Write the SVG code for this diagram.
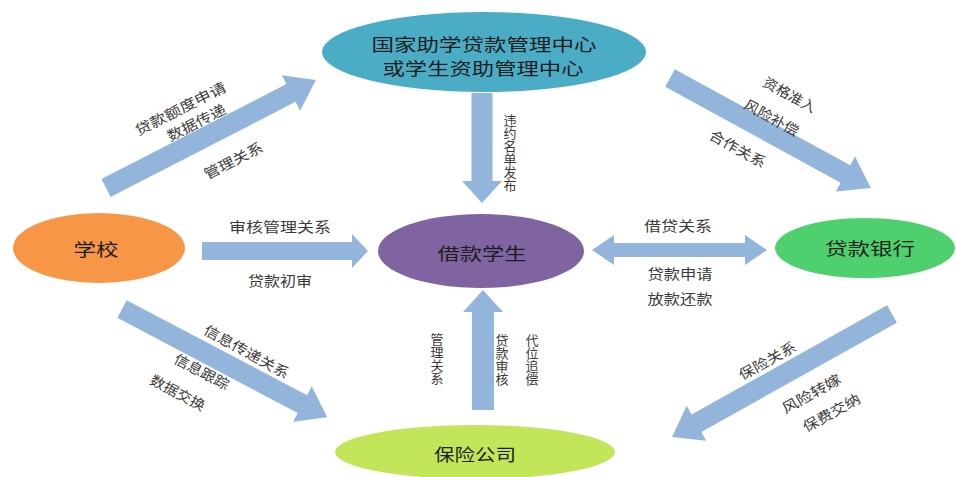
<svg xmlns="http://www.w3.org/2000/svg" width="957" height="477" viewBox="0 0 957 477">
<style>
.arr{fill:#93b5dc;}
.lbl{font-family:"Noto Sans CJK SC","Noto Sans",sans-serif;font-size:14px;fill:#3a3a3a;text-anchor:middle;dominant-baseline:central;}
.vl{font-family:"Noto Sans CJK SC","Noto Sans",sans-serif;font-size:13px;fill:#3a3a3a;text-anchor:middle;writing-mode:tb;}
.nt{font-family:"Noto Sans CJK SC","Noto Sans",sans-serif;font-size:17px;fill:#1e1e1e;text-anchor:middle;dominant-baseline:central;}
</style>
<rect width="957" height="477" fill="#ffffff"/>
<g id="connectors">
  <path class="arr" transform="translate(106,188) rotate(-27.2)" d="M0,-10 L208,-10 L208,-20 L236,0 L208,20 L208,10 L0,10 Z"/>
  <path class="arr" transform="translate(670,78) rotate(28.7)" d="M0,-10 L200,-10 L200,-20 L229,0 L200,20 L200,10 L0,10 Z"/>
  <path class="arr" transform="translate(482,93) rotate(90)" d="M0,-10.5 L88,-10.5 L88,-20 L110,0 L88,20 L88,10.5 L0,10.5 Z"/>
  <path class="arr" transform="translate(202,251)" d="M0,-9 L150,-9 L150,-17 L166,0 L150,17 L150,9 L0,9 Z"/>
  <path class="arr" d="M592,250 L614,235 L614,243 L745,243 L745,235 L767,250 L745,265 L745,257 L614,257 L614,265 Z"/>
  <path class="arr" transform="translate(122,309) rotate(27.8)" d="M0,-10 L204,-10 L204,-20 L232,0 L204,20 L204,10 L0,10 Z"/>
  <path class="arr" transform="translate(483,410) rotate(-90)" d="M0,-11 L98,-11 L98,-20 L120,0 L98,20 L98,11 L0,11 Z"/>
  <path class="arr" transform="translate(892,314) rotate(150.8)" d="M0,-10 L224,-10 L224,-20 L252,0 L224,20 L224,10 L0,10 Z"/>
  <text class="lbl" transform="translate(180,108) rotate(-27)" textLength="100" lengthAdjust="spacingAndGlyphs">贷款额度申请</text>
  <text class="lbl" transform="translate(196,122) rotate(-27)" textLength="64" lengthAdjust="spacingAndGlyphs">数据传递</text>
  <text class="lbl" transform="translate(233,160) rotate(-27)" textLength="64" lengthAdjust="spacingAndGlyphs">管理关系</text>
  <text class="lbl" transform="translate(790,94) rotate(29)" textLength="58" lengthAdjust="spacingAndGlyphs">资格准入</text>
  <text class="lbl" transform="translate(772,117) rotate(29)" textLength="60" lengthAdjust="spacingAndGlyphs">风险补偿</text>
  <text class="lbl" transform="translate(738,148) rotate(29)" textLength="62" lengthAdjust="spacingAndGlyphs">合作关系</text>
  <text class="vl" x="510" y="152.5">违约名单发布</text>
  <text class="lbl" x="280" y="226" textLength="102" lengthAdjust="spacingAndGlyphs">审核管理关系</text>
  <text class="lbl" x="280" y="280" textLength="64" lengthAdjust="spacingAndGlyphs">贷款初审</text>
  <text class="lbl" x="678" y="225" textLength="68" lengthAdjust="spacingAndGlyphs">借贷关系</text>
  <text class="lbl" x="680" y="273" textLength="65" lengthAdjust="spacingAndGlyphs">贷款申请</text>
  <text class="lbl" x="680" y="298" textLength="65" lengthAdjust="spacingAndGlyphs">放款还款</text>
  <text class="lbl" transform="translate(247,351) rotate(29)" textLength="95" lengthAdjust="spacingAndGlyphs">信息传递关系</text>
  <text class="lbl" transform="translate(202,371) rotate(28)" textLength="60" lengthAdjust="spacingAndGlyphs">信息跟踪</text>
  <text class="lbl" transform="translate(178,392) rotate(28)" textLength="60" lengthAdjust="spacingAndGlyphs">数据交换</text>
  <text class="vl" x="437" y="359">管理关系</text>
  <text class="vl" x="502" y="360">贷款审核</text>
  <text class="vl" x="532" y="360">代位追偿</text>
  <text class="lbl" transform="translate(767,360) rotate(-29)" textLength="63" lengthAdjust="spacingAndGlyphs">保险关系</text>
  <text class="lbl" transform="translate(811,393) rotate(-29)" textLength="65" lengthAdjust="spacingAndGlyphs">风险转嫁</text>
  <text class="lbl" transform="translate(831,412) rotate(-29)" textLength="63" lengthAdjust="spacingAndGlyphs">保费交纳</text>
</g>
<g id="node-center">
  <ellipse cx="484" cy="52" rx="162" ry="40" fill="#4bacc6"/>
  <text class="nt" x="484" y="43" textLength="225" lengthAdjust="spacingAndGlyphs">国家助学贷款管理中心</text>
  <text class="nt" x="483" y="67" textLength="201" lengthAdjust="spacingAndGlyphs">或学生资助管理中心</text>
</g>
<g id="node-school">
  <ellipse cx="99" cy="248" rx="86" ry="35" fill="#f79646"/>
  <text class="nt" x="96" y="248" textLength="45" lengthAdjust="spacingAndGlyphs">学校</text>
</g>
<g id="node-student">
  <ellipse cx="481" cy="251" rx="103" ry="37" fill="#8064a2"/>
  <text class="nt" x="482" y="252" textLength="89" lengthAdjust="spacingAndGlyphs">借款学生</text>
</g>
<g id="node-bank">
  <ellipse cx="865" cy="248" rx="90" ry="30" fill="#4fd06e"/>
  <text class="nt" x="870" y="247" textLength="90" lengthAdjust="spacingAndGlyphs">贷款银行</text>
</g>
<g id="node-insurance">
  <ellipse cx="475" cy="452" rx="140" ry="27" fill="#c3e55a"/>
  <text class="nt" x="475" y="453" textLength="82" lengthAdjust="spacingAndGlyphs">保险公司</text>
</g>
</svg>
